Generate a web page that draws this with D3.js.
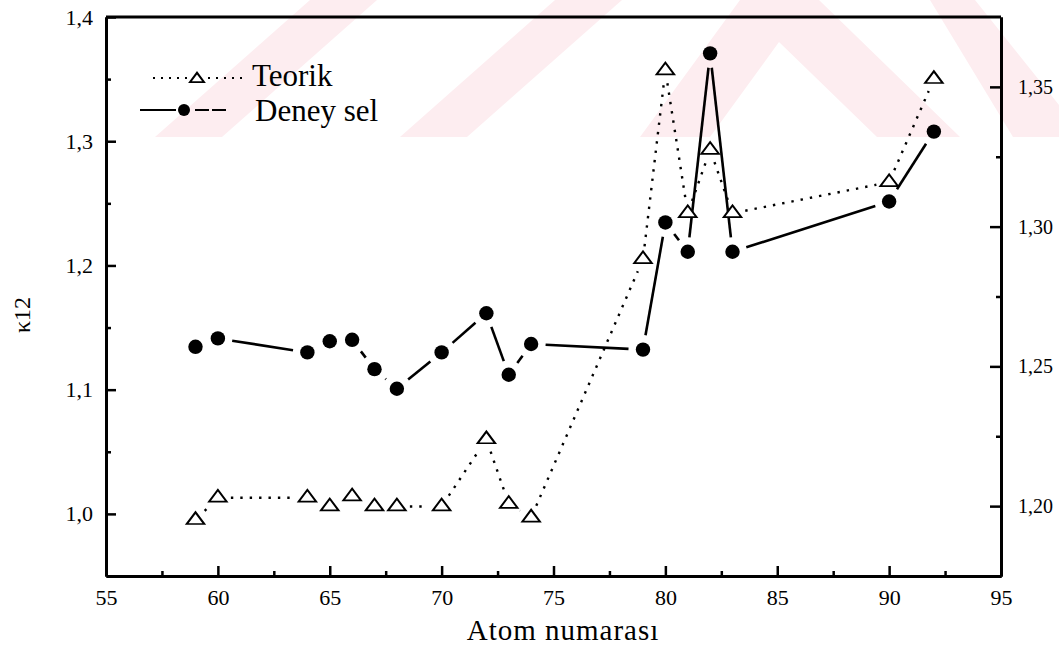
<!DOCTYPE html>
<html>
<head>
<meta charset="utf-8">
<script src="https://cdn.jsdelivr.net/npm/d3@7"></script>
<style>
  body { margin: 0; background: #fff; }
  svg { display: block; }
  svg text { font-family: "Liberation Serif", "Times New Roman", serif !important; }
</style>
</head>
<body>
<svg id="chart" width="1059" height="651"></svg>
<script>
// atom numbers (Z)
const atomNumbers = [59, 60, 64, 65, 66, 67, 68, 70, 72, 73, 74, 79, 80, 81, 82, 83, 90, 92];
// theoretical kappa12 (left axis)
const teorik = [0.995, 1.013, 1.013, 1.006, 1.014, 1.006, 1.006, 1.006, 1.060, 1.008, 0.997,
                1.205, 1.357, 1.242, 1.293, 1.242, 1.267, 1.350];
// experimental kappa12 (right axis)
const deneysel = [1.257, 1.260, 1.255, 1.259, 1.2595, 1.249, 1.242, 1.255, 1.269, 1.247, 1.258,
                  1.256, 1.3015, 1.291, 1.362, 1.291, 1.309, 1.334];

const xTicks = [55, 60, 65, 70, 75, 80, 85, 90, 95];
const xMinor = [57.5, 62.5, 67.5, 72.5, 77.5, 82.5, 87.5, 92.5];
const yLeftTicks = [1.0, 1.1, 1.2, 1.3, 1.4];
const yLeftMinor = [1.05, 1.15, 1.25, 1.35];
const yRightTicks = [1.20, 1.25, 1.30, 1.35];
const yRightMinor = [1.225, 1.275, 1.325];

const svg = d3.select("#chart");
const mLeft = 106, mRight = 1001, mTop = 17, mBottom = 576;

const x = d3.scaleLinear().domain([55, 95]).range([mLeft, mRight]);
const yL = d3.scaleLinear().domain([0.95, 1.4]).range([mBottom, mTop]);
const yR = d3.scaleLinear().domain([1.175, 1.375]).range([mBottom, mTop]);

// faint watermark in the background (decoration of the scanned page)
const wm = svg.append("g").attr("fill", "#fdedf0");
const stripes = [
  [[155, 137], [222, 137], [377, 0], [310, 0]],
  [[400, 137], [467, 137], [622, 0], [555, 0]],
  [[640, 137], [710, 137], [779, 42], [877, 137], [960, 137], [819, 0], [740, 0]],
  [[930, 0], [975, 0], [1059, 105], [1059, 137], [1013, 137]]
];
wm.selectAll("polygon").data(stripes).join("polygon")
  .attr("points", d => d.map(p => p.join(",")).join(" "));

const fmt = d => d3.format(".1f")(d).replace(".", ",");
const fmt2 = d => d3.format(".2f")(d).replace(".", ",");

// bottom axis
svg.append("g").attr("transform", `translate(0,${mBottom})`)
  .call(d3.axisBottom(x).tickValues(xTicks).tickSize(-10).tickSizeOuter(0).tickPadding(13).tickFormat(d3.format("d")));
svg.append("g").attr("transform", `translate(0,${mBottom})`)
  .call(d3.axisBottom(x).tickValues(xMinor).tickSize(-5).tickSizeOuter(0).tickFormat(""));

// left axis
svg.append("g").attr("transform", `translate(${mLeft},0)`)
  .call(d3.axisLeft(yL).tickValues(yLeftTicks).tickSize(-10).tickSizeOuter(0).tickPadding(13).tickFormat(fmt));
svg.append("g").attr("transform", `translate(${mLeft},0)`)
  .call(d3.axisLeft(yL).tickValues(yLeftMinor).tickSize(-5).tickSizeOuter(0).tickFormat(""));

// right axis
const gR = svg.append("g").attr("transform", `translate(${mRight},0)`)
  .call(d3.axisRight(yR).tickValues(yRightTicks).tickSize(-11).tickSizeOuter(0).tickPadding(17).tickFormat(fmt2));
svg.append("g").attr("transform", `translate(${mRight},0)`)
  .call(d3.axisRight(yR).tickValues(yRightMinor).tickSize(-5).tickSizeOuter(0).tickFormat(""));

// top frame
svg.append("line").attr("x1", mLeft).attr("x2", mRight).attr("y1", mTop).attr("y2", mTop)
  .attr("stroke", "#000").attr("stroke-width", 3);

svg.selectAll(".domain").attr("stroke", "#000").attr("stroke-width", 3);
svg.selectAll(".tick line").attr("stroke", "#000").attr("stroke-width", 2.5);
svg.selectAll(".tick text").attr("fill", "#000").attr("font-size", 22);
gR.selectAll(".tick text").attr("font-size", 20);

// axis titles
svg.append("text").attr("x", 563).attr("y", 640).attr("text-anchor", "middle")
  .attr("font-size", 29).attr("letter-spacing", 1).text("Atom numarası");
svg.append("text").attr("transform", "translate(30,315) rotate(-90)").attr("text-anchor", "middle")
  .attr("font-size", 24).text("κ12");

// series
const tPts = atomNumbers.map((z, i) => [x(z), yL(teorik[i])]);
const dPts = atomNumbers.map((z, i) => [x(z), yR(deneysel[i])]);

function gappedSegments(pts, gap) {
  const segs = [];
  for (let i = 0; i < pts.length - 1; i++) {
    const [x1, y1] = pts[i], [x2, y2] = pts[i + 1];
    const len = Math.hypot(x2 - x1, y2 - y1);
    if (len <= 2 * gap) continue;
    const ux = (x2 - x1) / len, uy = (y2 - y1) / len;
    segs.push([x1 + ux * gap, y1 + uy * gap, x2 - ux * gap, y2 - uy * gap]);
  }
  return segs;
}

svg.append("g").selectAll("line").data(gappedSegments(tPts, 13)).join("line")
  .attr("x1", d => d[0]).attr("y1", d => d[1]).attr("x2", d => d[2]).attr("y2", d => d[3])
  .attr("stroke", "#000").attr("stroke-width", 2.4).attr("stroke-dasharray", "2.4,7");

svg.append("g").selectAll("line").data(gappedSegments(dPts, 14.5)).join("line")
  .attr("x1", d => d[0]).attr("y1", d => d[1]).attr("x2", d => d[2]).attr("y2", d => d[3])
  .attr("stroke", "#000").attr("stroke-width", 2.6);

const triPath = d3.symbol().type(d3.symbolTriangle).size(110);
svg.append("g").selectAll("path").data(tPts).join("path")
  .attr("d", triPath).attr("transform", d => `translate(${d[0]},${d[1]}) scale(1.1,0.85)`)
  .attr("fill", "#fff").attr("stroke", "#000").attr("stroke-width", 2);

svg.append("g").selectAll("circle").data(dPts).join("circle")
  .attr("cx", d => d[0]).attr("cy", d => d[1]).attr("r", 7.2).attr("fill", "#000");

// legend
const lg = svg.append("g");
lg.append("line").attr("x1", 153).attr("x2", 188).attr("y1", 78).attr("y2", 78)
  .attr("stroke", "#000").attr("stroke-width", 2).attr("stroke-dasharray", "2,6");
lg.append("line").attr("x1", 208).attr("x2", 244).attr("y1", 78).attr("y2", 78)
  .attr("stroke", "#000").attr("stroke-width", 2).attr("stroke-dasharray", "2,6");
lg.append("path").attr("d", d3.symbol().type(d3.symbolTriangle).size(70))
  .attr("transform", "translate(197,79) scale(1.1,0.85)")
  .attr("fill", "#fff").attr("stroke", "#000").attr("stroke-width", 2);
lg.append("text").attr("x", 252).attr("y", 86).attr("font-size", 31).text("Teorik");

lg.append("line").attr("x1", 140).attr("x2", 176).attr("y1", 110).attr("y2", 110)
  .attr("stroke", "#000").attr("stroke-width", 2.2);
lg.append("line").attr("x1", 195).attr("x2", 228).attr("y1", 110).attr("y2", 110)
  .attr("stroke", "#000").attr("stroke-width", 2.2).attr("stroke-dasharray", "14,3");
lg.append("circle").attr("cx", 184).attr("cy", 110).attr("r", 6).attr("fill", "#000");
lg.append("text").attr("x", 255).attr("y", 121).attr("font-size", 31).text("Deney sel");
</script>
</body>
</html>
